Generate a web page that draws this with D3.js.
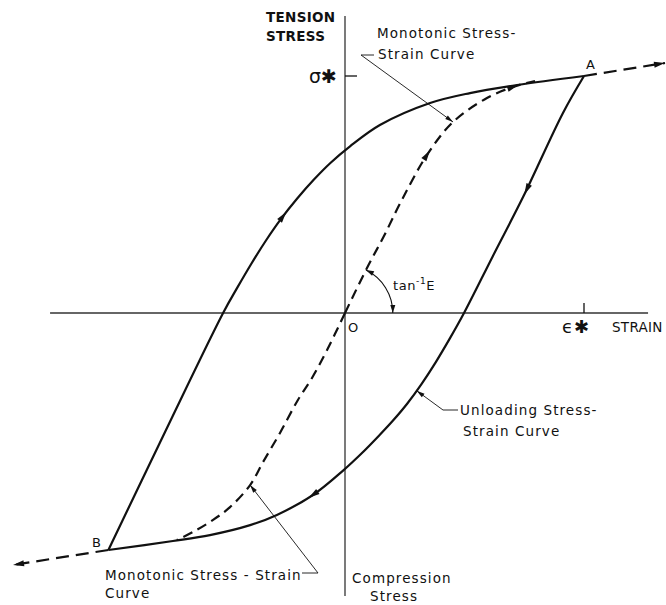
<!DOCTYPE html>
<html>
<head>
<meta charset="utf-8">
<script src="https://cdn.jsdelivr.net/npm/d3@7"></script>
<style>
  body { margin: 0; background: #fff; }
  text { font-family: "DejaVu Sans", sans-serif; fill: #111; }
</style>
</head>
<body>
<div id="chart"></div>
<script>
// strain in units of eps*, stress in units of sigma*
const loading = [[-0.99, -1.0], [-0.753, -0.502], [-0.51, 0], [-0.45, 0.108], [-0.39, 0.211],
    [-0.33, 0.307], [-0.27, 0.394], [-0.20, 0.483], [-0.13, 0.563], [-0.06, 0.634], [0.021, 0.703],
    [0.146, 0.793], [0.356, 0.886], [0.523, 0.928], [0.72, 0.962], [1, 1]];
const unloading = [[1, 1], [0.912, 0.844], [0.745, 0.489], [0.619, 0.241], [0.498, 0], [0.44, -0.105],
    [0.38, -0.207], [0.32, -0.30], [0.26, -0.383], [0.20, -0.455], [0.14, -0.52], [0.07, -0.592],
    [-0.008, -0.665], [-0.134, -0.768], [-0.285, -0.852], [-0.397, -0.895], [-0.565, -0.937],
    [-0.72, -0.962], [-0.99, -1.0]];
const monoUp = [[0, 0], [0.092, 0.19], [0.163, 0.325], [0.238, 0.477], [0.343, 0.667], [0.452, 0.806],
    [0.594, 0.907], [0.703, 0.954], [0.795, 0.979]];
const monoDown = [[0, 0], [-0.075, -0.156], [-0.138, -0.274], [-0.197, -0.367], [-0.272, -0.506],
    [-0.343, -0.629], [-0.397, -0.726], [-0.481, -0.819], [-0.552, -0.873], [-0.636, -0.924], [-0.703, -0.958]];
const beyondA = [[1, 1], [1.339, 1.055]];
const beyondB = [[-0.99, -1.0], [-1.389, -1.063]];

const strainAxis = [-1.234, 1.268];
const stressAxis = [-1.194, 1.253];
const epsStar = 1, sigmaStar = 1;

const W = 666, H = 605;
const ink = "#111";

const svg = d3.select("#chart").append("svg")
    .attr("width", W)
    .attr("height", H);

const x = d3.scaleLinear().domain([-1, 1]).range([106, 584]);
const y = d3.scaleLinear().domain([-1, 1]).range([550, 76]);

const line = d3.line()
    .x(d => x(d[0]))
    .y(d => y(d[1]))
    .curve(d3.curveCatmullRom.alpha(0.5));

// axes
svg.append("line")
    .attr("x1", x(strainAxis[0])).attr("x2", x(strainAxis[1]))
    .attr("y1", y(0)).attr("y2", y(0))
    .attr("stroke", "#333").attr("stroke-width", 1.3);
svg.append("line")
    .attr("x1", x(0)).attr("x2", x(0))
    .attr("y1", y(stressAxis[1])).attr("y2", y(stressAxis[0]))
    .attr("stroke", "#333").attr("stroke-width", 1.3);

// ticks at sigma* and eps*
svg.append("line")
    .attr("x1", x(0)).attr("x2", x(0) + 12)
    .attr("y1", y(sigmaStar)).attr("y2", y(sigmaStar))
    .attr("stroke", ink).attr("stroke-width", 1.3);
svg.append("line")
    .attr("x1", x(epsStar)).attr("x2", x(epsStar))
    .attr("y1", y(0) - 10).attr("y2", y(0))
    .attr("stroke", ink).attr("stroke-width", 1.3);

function arrowHead(x0, y0, dx, dy, len, wid)
{
    const n = Math.hypot(dx, dy);
    const ux = dx / n, uy = dy / n;
    const bx = x0 - ux * len, by = y0 - uy * len;
    const px = -uy * wid / 2, py = ux * wid / 2;
    svg.append("path")
        .attr("d", `M${x0},${y0}L${bx + px},${by + py}L${bx - px},${by - py}Z`)
        .attr("fill", ink);
}

// arrow sitting on a drawn path, nearest to a data point
function arrowOnPath(node, pt, len, wid)
{
    const L = node.getTotalLength();
    const tx = x(pt[0]), ty = y(pt[1]);
    let best = 0, bd = Infinity;
    for(let s = 0; s <= L; s += 1)
    {
        const p = node.getPointAtLength(s);
        const d = (p.x - tx) ** 2 + (p.y - ty) ** 2;
        if(d < bd) { bd = d; best = s; }
    }
    const p0 = node.getPointAtLength(Math.max(0, best - 3));
    const p1 = node.getPointAtLength(Math.min(L, best + 3));
    const tip = node.getPointAtLength(Math.min(L, best + len / 2));
    arrowHead(tip.x, tip.y, p1.x - p0.x, p1.y - p0.y, len, wid);
}

function curve(data, dash)
{
    return svg.append("path")
        .datum(data)
        .attr("d", line)
        .attr("fill", "none")
        .attr("stroke", ink)
        .attr("stroke-width", 2.2)
        .attr("stroke-dasharray", dash)
        .attr("stroke-linecap", "butt")
        .node();
}

const loadNode = curve(loading, null);
const unloadNode = curve(unloading, null);
const upNode = curve(monoUp, "10,6");
const downNode = curve(monoDown, "10,6");
curve(beyondA, "13,7");
curve(beyondB, "13,7");

arrowOnPath(loadNode, [-0.259, 0.405], 11, 6);
arrowOnPath(unloadNode, [0.76, 0.52], 11, 6);
arrowOnPath(unloadNode, unloading[13], 11, 6);
arrowOnPath(upNode, monoUp[4], 11, 6);
arrowOnPath(upNode, monoUp[7], 11, 6);

// end arrows on the extensions
arrowHead(x(beyondA[1][0]), y(beyondA[1][1]),
    x(beyondA[1][0]) - x(beyondA[0][0]), y(beyondA[1][1]) - y(beyondA[0][1]), 11, 6);
arrowHead(x(beyondB[1][0]), y(beyondB[1][1]),
    x(beyondB[1][0]) - x(beyondB[0][0]), y(beyondB[1][1]) - y(beyondB[0][1]), 11, 6);

// angle arc for tan^-1 E
const cx = x(0), cy = y(0);
const r = x(0.2) - x(0);
const a0 = Math.atan2(y(monoUp[1][1]) - cy, x(monoUp[1][0]) - cx);
const arcPath = d3.path();
arcPath.arc(cx, cy, r, a0, 0, false);
svg.append("path")
    .attr("d", arcPath.toString())
    .attr("fill", "none")
    .attr("stroke", ink)
    .attr("stroke-width", 1.1);
arrowHead(cx + r * Math.cos(a0), cy + r * Math.sin(a0), Math.sin(a0), -Math.cos(a0), 8, 5);
arrowHead(cx + r, cy, 0, 1, 8, 5);

// leader lines
function leader(pts, target)
{
    const tx = x(target[0]), ty = y(target[1]);
    const all = pts.concat([[tx, ty]]);
    svg.append("path")
        .attr("d", d3.line()(all))
        .attr("fill", "none")
        .attr("stroke", ink)
        .attr("stroke-width", 0.9);
    const prev = all[all.length - 2];
    arrowHead(tx, ty, tx - prev[0], ty - prev[1], 8, 4.5);
}
leader([[374, 55], [361, 55]], monoUp[5]);
leader([[458, 410], [443, 410]], [0.30, -0.328]);
leader([[302, 573], [318, 573]], monoDown[6]);

// labels
function label(tx, ty, str, size, opts = {})
{
    const t = svg.append("text")
        .attr("x", tx).attr("y", ty)
        .style("font-size", size + "px")
        .style("letter-spacing", (opts.ls ?? 1.1) + "px")
        .text(str);
    if(opts.bold) t.style("font-weight", "bold");
    if(opts.anchor) t.attr("text-anchor", opts.anchor);
    return t;
}

label(266, 22, "TENSION", 13.5, { bold: true, ls: 0.3 });
label(266, 41, "STRESS", 13.5, { bold: true, ls: 0.3 });
label(377, 38, "Monotonic Stress-", 13.5);
label(378, 59, "Strain Curve", 13.5);
label(337, 83, "σ✱", 19, { anchor: "end", ls: 0 });
label(348, 332, "O", 13, { ls: 0 });
const tan = label(393, 290, "tan", 13, { ls: 0.6 });
tan.append("tspan").attr("dy", -6).style("font-size", "9px").text("-1");
tan.append("tspan").attr("dy", 6).text("E");
label(562, 333, "ϵ✱", 18, { ls: 1 });
label(612, 332, "STRAIN", 13.5, { ls: 0.3 });
label(586, 69, "A", 13, { ls: 0 });
label(92, 547, "B", 13, { ls: 0 });
label(460, 415, "Unloading Stress-", 13.5);
label(463, 436, "Strain Curve", 13.5);
label(105, 580, "Monotonic Stress - Strain", 13.5);
label(105, 598, "Curve", 13.5);
label(352, 583, "Compression", 13.5);
label(370, 601, "Stress", 13.5);
</script>
</body>
</html>
